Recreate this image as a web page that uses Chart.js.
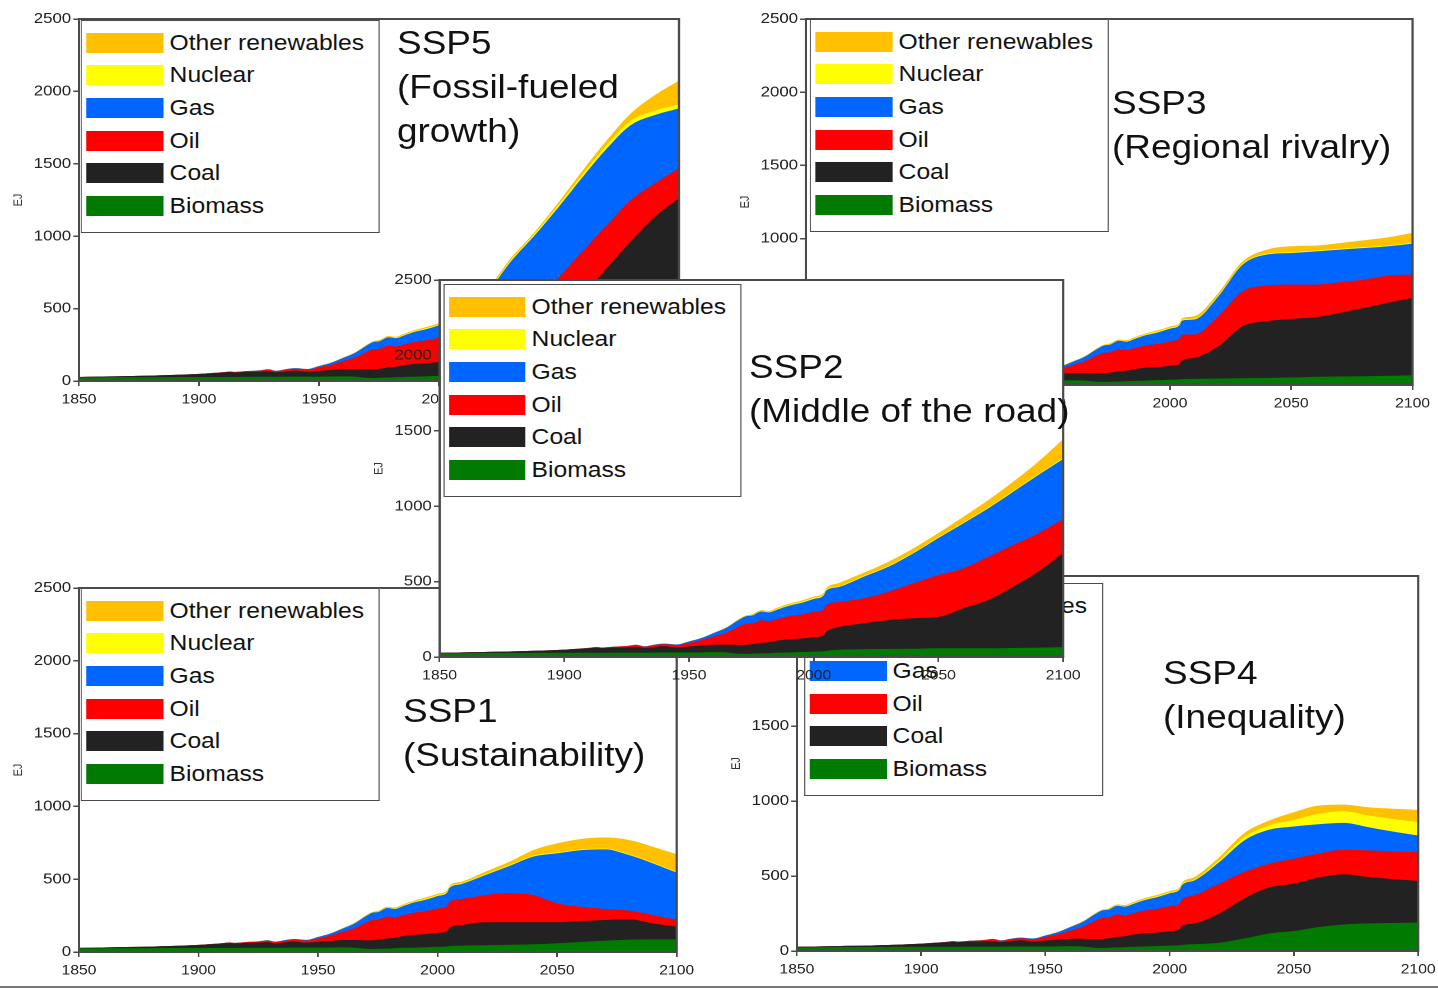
<!DOCTYPE html>
<html>
<head>
<meta charset="utf-8">
<title>Primary energy by source, SSP baselines</title>
<script src="https://cdn.jsdelivr.net/npm/chart.js@4.4.1/dist/chart.umd.min.js"></script>
<style>
  html, body { margin: 0; padding: 0; background: #fff; overflow: hidden; }
  body { width: 1438px; height: 989px; font-family: 'Liberation Sans', Arial, sans-serif; color: #111; }
  /* the figure is laid out narrow and stretched sideways */
  #page { position: absolute; left: 0; top: 0; width: 1284px; height: 989px; transform: scaleX(1.12); transform-origin: 0 0; }
  .panel { position: absolute; left: 0; top: 0; width: 100%; height: 100%; }
  canvas { position: absolute; }
  .legend { position: absolute; background: #fff; border: 1.5px solid #4a4a4a; box-sizing: border-box; }
  .row { position: absolute; display: flex; align-items: center; height: 32px; }
  .sw { height: 20px; flex: none; }
  .lbl { font-size: 22px; line-height: 1; white-space: nowrap; }
  .title { position: absolute; font-size: 33px; line-height: 44px; white-space: nowrap; }
  #rule { position: absolute; left: 0; top: 986px; height: 2px; width: 100%; background: #777; }
</style>
</head>
<body>
<div id="page"><div id="rule"></div></div>
<script>
const SX = 1.12;

const fuels = ['Biomass', 'Coal', 'Oil', 'Gas', 'Nuclear', 'Other renewables'];
const fuelKeys = ['biomass', 'coal', 'oil', 'gas', 'nuclear', 'other'];
const fuelColors = ['#007a00', '#222222', '#ff0000', '#0066ff', '#ffff00', '#ffc000'];

// shared history, EJ
const histYears   = [1850, 1860, 1870, 1880, 1890, 1900, 1905, 1910, 1913, 1915, 1920, 1925, 1929, 1932, 1937, 1940, 1945, 1950, 1955, 1960, 1965, 1970, 1973, 1975, 1979, 1982, 1985, 1990, 1995, 2000, 2004, 2005];
const histBiomass = [25, 26, 27, 27, 28, 28, 28, 28, 28, 28, 29, 29, 29, 29, 30, 30, 30, 30, 31, 32, 30, 22, 21, 22, 24, 26, 28, 30, 33, 36, 38, 41];
const histCoal    = [3, 5, 7, 10, 14, 20, 25, 30, 34, 31, 34, 35, 38, 31, 38, 42, 34, 40, 45, 50, 52, 58, 60, 62, 70, 72, 80, 88, 90, 95, 106, 126];
const histOil     = [0, 0, 0, 0, 0, 1, 1, 2, 3, 3, 5, 7, 11, 8, 12, 13, 14, 24, 36, 55, 80, 122, 140, 138, 150, 140, 142, 152, 158, 168, 173, 177];
const histGas     = [0, 0, 0, 0, 0, 0, 1, 1, 1, 1, 1, 2, 3, 3, 4, 4, 5, 9, 14, 22, 32, 44, 50, 52, 58, 58, 62, 70, 78, 86, 92, 96];
const histNuclear = [0, 0, 0, 0, 0, 0, 0, 0, 0, 0, 0, 0, 0, 0, 0, 0, 0, 0, 0, 0, 0, 1, 1, 2, 3, 4, 5, 6, 7, 7, 7, 7];
const histOther   = [0, 0, 0, 0, 0, 0, 0, 0, 0, 0, 0, 1, 1, 1, 1, 1, 1, 2, 2, 3, 4, 5, 5, 6, 6, 6, 7, 7, 8, 8, 8, 9];

// scenario projections, EJ
const projYears = [2010, 2020, 2030, 2040, 2050, 2060, 2070, 2080, 2090, 2100];

const ssp1 = {
  biomass: [44, 46, 50, 53, 60, 69, 78, 85, 87, 87],
  coal:    [141, 158, 154, 151, 144, 144, 142, 140, 110, 87],
  oil:     [179, 187, 201, 187, 130, 98, 75, 59, 57, 46],
  gas:     [103, 138, 186, 264, 344, 389, 410, 382, 355, 325],
  nuclear: [6, 6, 6, 6, 6, 5, 5, 5, 5, 5],
  other:   [10, 17, 23, 39, 62, 71, 77, 98, 109, 121]
};
const ssp2 = {
  biomass: [48, 52, 54, 55, 58, 58, 58, 60, 62, 66],
  coal:    [151, 171, 191, 202, 207, 265, 320, 406, 504, 624],
  oil:     [166, 166, 188, 232, 279, 265, 287, 277, 254, 225],
  gas:     [99, 143, 166, 199, 245, 298, 321, 353, 387, 398],
  nuclear: [6, 6, 6, 6, 6, 6, 6, 6, 6, 6],
  other:   [20, 21, 27, 27, 27, 38, 49, 61, 82, 126]
};
const ssp3 = {
  biomass: [42, 44, 47, 49, 51, 56, 58, 60, 63, 67],
  coal:    [143, 221, 355, 387, 401, 407, 435, 467, 500, 528],
  oil:     [160, 205, 238, 243, 234, 223, 209, 193, 185, 159],
  gas:     [102, 136, 182, 212, 216, 227, 223, 216, 200, 212],
  nuclear: [6, 6, 6, 6, 6, 6, 6, 6, 6, 6],
  other:   [17, 17, 17, 28, 40, 33, 39, 47, 55, 67]
};
const ssp4 = {
  biomass: [46, 55, 84, 117, 133, 160, 177, 184, 187, 190],
  coal:    [138, 195, 266, 306, 316, 330, 334, 309, 292, 277],
  oil:     [188, 199, 177, 159, 166, 160, 164, 178, 185, 192],
  gas:     [99, 144, 210, 226, 215, 195, 179, 154, 132, 111],
  nuclear: [6, 14, 22, 29, 44, 70, 78, 78, 84, 89],
  other:   [16, 19, 27, 33, 51, 55, 44, 55, 68, 82]
};
const ssp5 = {
  biomass: [45, 48, 50, 52, 55, 57, 58, 60, 62, 64],
  coal:    [145, 190, 260, 348, 425, 543, 722, 907, 1073, 1198],
  oil:     [175, 200, 170, 160, 240, 298, 297, 283, 230, 207],
  gas:     [100, 170, 346, 448, 484, 513, 530, 518, 472, 414],
  nuclear: [6, 8, 10, 12, 16, 20, 25, 30, 30, 28],
  other:   [12, 14, 14, 12, 18, 26, 32, 51, 108, 163]
};

const history = {
  biomass: histBiomass, coal: histCoal, oil: histOil,
  gas: histGas, nuclear: histNuclear, other: histOther
};

const yTicks = [0, 500, 1000, 1500, 2000, 2500];
const xTicks = [1850, 1900, 1950, 2000, 2050, 2100];

function series(proj, key) {
  const years = histYears.concat(projYears);
  const vals = history[key].concat(proj[key]);
  return years.map((x, i) => ({ x, y: vals[i] }));
}

// white plot background (for the panel drawn on top) and the plot frame
const framePlugin = {
  id: 'frame',
  beforeDraw(chart, args, opts) {
    if (!opts.fill) return;
    const { ctx, chartArea: a } = chart;
    ctx.save();
    ctx.fillStyle = '#fff';
    ctx.fillRect(a.left, a.top, a.width, a.height);
    ctx.restore();
  },
  afterDatasetsDraw(chart) {
    const { ctx, chartArea: a } = chart;
    ctx.save();
    ctx.strokeStyle = '#4a4a4a';
    ctx.lineWidth = 2;
    ctx.strokeRect(a.left, a.top, a.width, a.height);
    ctx.restore();
  }
};

Chart.defaults.font.family = "'Liberation Sans', Arial, sans-serif";

// order matters: later panels sit on top
const panels = [
  { lines: ['SSP5', '(Fossil-fueled', 'growth)'], data: ssp5, plot: [79, 19, 679, 381], legend: [81, 20], title: [397, 21] },
  { lines: ['SSP3', '(Regional rivalry)'], data: ssp3, plot: [806, 19, 1413, 385], legend: [810, 19], title: [1112, 81] },
  { lines: ['SSP1', '(Sustainability)'], data: ssp1, plot: [79, 588, 677, 952], legend: [81, 588], title: [403, 689] },
  { lines: ['SSP4', '(Inequality)'], data: ssp4, plot: [797, 576, 1418, 951], legend: [804, 583], title: [1163, 651] },
  { lines: ['SSP2', '(Middle of the road)'], data: ssp2, plot: [440, 280, 1064, 657], legend: [443, 284], title: [749, 345], opaque: true }
];

const page = document.getElementById('page');

function buildPanel(p) {
  const panel = document.createElement('div');
  panel.className = 'panel';
  page.appendChild(panel);

  const [L, T, R, B] = p.plot;
  const padL = 70, padR = 30, padT = 12, padB = 40;
  const cw = Math.round((R - L + padL + padR) / SX);
  const ch = B - T + padT + padB;
  const canvas = document.createElement('canvas');
  canvas.width = cw;
  canvas.height = ch;
  canvas.style.left = ((L - padL) / SX) + 'px';
  canvas.style.top = (T - padT) + 'px';
  panel.appendChild(canvas);

  const tickGrid = { drawOnChartArea: false, drawTicks: true, tickLength: 5, color: '#4a4a4a', lineWidth: 1.5 };

  new Chart(canvas, {
    type: 'line',
    data: {
      datasets: fuels.map((f, i) => ({
        label: f,
        data: series(p.data, fuelKeys[i]),
        backgroundColor: fuelColors[i],
        borderColor: fuelColors[i],
        borderWidth: 0,
        pointRadius: 0,
        fill: 'origin',
        cubicInterpolationMode: 'monotone'
      }))
    },
    options: {
      responsive: false,
      animation: false,
      devicePixelRatio: 2,
      layout: { padding: { top: padT, right: padR / SX, left: 0, bottom: 0 } },
      plugins: {
        legend: { display: false },
        tooltip: { enabled: false },
        frame: { fill: !!p.opaque }
      },
      scales: {
        x: {
          type: 'linear', min: 1850, max: 2100,
          afterBuildTicks: s => { s.ticks = xTicks.map(v => ({ value: v })); },
          ticks: { callback: v => String(v), maxRotation: 0, autoSkip: false, padding: 5, color: '#222', font: { size: 14 } },
          grid: tickGrid,
          border: { display: false },
          afterFit: s => { s.height = padB; }
        },
        y: {
          stacked: true, min: 0, max: 2500,
          afterBuildTicks: s => { s.ticks = yTicks.map(v => ({ value: v })); },
          ticks: { callback: v => String(v), padding: 2, color: '#222', font: { size: 15 } },
          grid: tickGrid,
          border: { display: false },
          title: { display: true, text: 'EJ', color: '#333', font: { size: 11 }, padding: { top: 2, bottom: 0 } },
          afterFit: s => { s.width = padL / SX; }
        }
      }
    },
    plugins: [framePlugin]
  });

  // legend box, top entry first
  const [lx, ly] = p.legend;
  const box = document.createElement('div');
  box.className = 'legend';
  box.style.left = (lx / SX) + 'px';
  box.style.top = ly + 'px';
  box.style.width = (299 / SX) + 'px';
  box.style.height = '213px';
  panel.appendChild(box);
  for (let k = 0; k < fuels.length; k++) {
    const i = fuels.length - 1 - k;
    const row = document.createElement('div');
    row.className = 'row';
    row.style.left = (4.5 / SX) + 'px';
    row.style.top = (5.5 + 32.7 * k) + 'px';
    const sw = document.createElement('div');
    sw.className = 'sw';
    sw.style.width = (77 / SX) + 'px';
    sw.style.background = fuelColors[i];
    const lbl = document.createElement('span');
    lbl.className = 'lbl';
    lbl.style.marginLeft = (6 / SX) + 'px';
    lbl.textContent = fuels[i];
    row.appendChild(sw);
    row.appendChild(lbl);
    box.appendChild(row);
  }

  const title = document.createElement('div');
  title.className = 'title';
  title.style.left = (p.title[0] / SX) + 'px';
  title.style.top = p.title[1] + 'px';
  title.innerHTML = p.lines.join('<br>');
  panel.appendChild(title);
}

panels.forEach(buildPanel);
</script>
</body>
</html>
